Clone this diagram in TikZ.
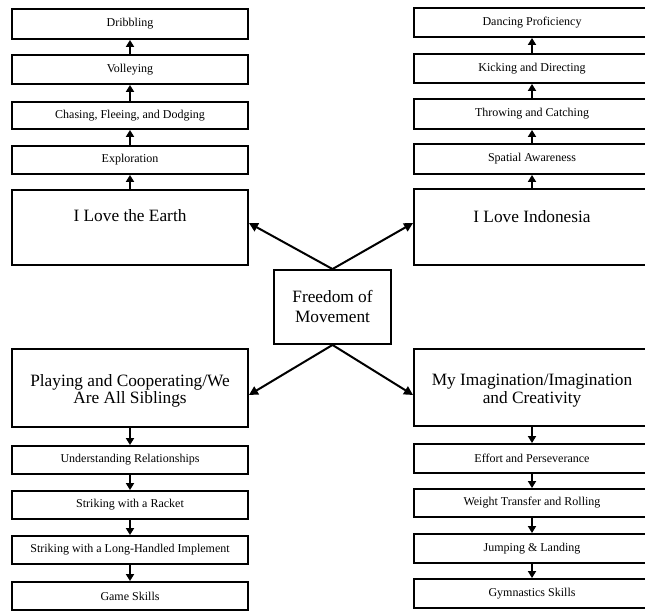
\documentclass[tikz,border=0pt]{standalone}
\usepackage{fontspec}
\setmainfont{Liberation Serif}
\usetikzlibrary{arrows.meta}
\begin{document}
\begin{tikzpicture}[x=1pt,y=-1pt,
  box/.style={draw,line width=1.9pt,rectangle,inner sep=0pt,minimum width=236pt,font=\fontsize{12}{14}\selectfont},
  bigbox/.style={draw,line width=1.9pt,rectangle,inner sep=0pt,minimum width=236pt},
  bigtxt/.style={inner sep=0pt,align=center,font=\fontsize{17.3}{18}\selectfont},
  arr/.style={line width=2pt,-{Triangle[length=9pt,width=9pt]}},
  sarr/.style={line width=1.9pt,-{Triangle[length=7pt,width=8pt]}}]
\useasboundingbox (0,0) rectangle (645,612);
% top left
\node[box,minimum height=30pt] (drib) at (130,24) {Dribbling};
\node[box,minimum height=29pt] (voll) at (130,69.5) {Volleying};
\node[box,minimum height=27pt] (chas) at (130,115.5) {Chasing, Fleeing, and Dodging};
\node[box,minimum height=28pt] (expl) at (130,160) {Exploration};
\node[bigbox,minimum height=75pt] (earth) at (130,227.5) {};
\node[bigtxt,anchor=base] (earthT) at (130,222) {I Love the Earth};
\draw[sarr] (earth) -- (expl);
\draw[sarr] (expl) -- (chas);
\draw[sarr] (chas) -- (voll);
\draw[sarr] (voll) -- (drib);
% top right
\node[box,minimum height=29pt] (danc) at (532,22.5) {Dancing Proficiency};
\node[box,minimum height=29pt] (kick) at (532,68.5) {Kicking and Directing};
\node[box,minimum height=30pt] (thro) at (532,114) {Throwing and Catching};
\node[box,minimum height=30pt] (spat) at (532,159) {Spatial Awareness};
\node[bigbox,minimum height=76pt] (indo) at (532,227) {};
\node[bigtxt,anchor=base] (indoT) at (532,223) {I Love Indonesia};
\draw[sarr] (indo) -- (spat);
\draw[sarr] (spat) -- (thro);
\draw[sarr] (thro) -- (kick);
\draw[sarr] (kick) -- (danc);
% center
\node[draw,line width=1.9pt,inner sep=0pt,minimum width=117pt,minimum height=74pt] (free) at (332.5,307) {};
\node[inner sep=0pt,anchor=base,font=\fontsize{17.3}{20}\selectfont] (freeA) at (332.5,302.5) {Freedom of};
\node[inner sep=0pt,anchor=base,font=\fontsize{17.3}{20}\selectfont] (freeB) at (332.5,322) {Movement};
% bottom left
\node[bigbox,minimum height=78pt] (play) at (130,388) {};
\node[bigtxt,anchor=base] (playA) at (130,386) {Playing and Cooperating/We};
\node[bigtxt,anchor=base] (playB) at (130,403.5) {Are All Siblings};
\node[box,minimum height=28pt] (unde) at (130,460) {Understanding Relationships};
\node[box,minimum height=28pt] (rack) at (130,505) {Striking with a Racket};
\node[box,minimum height=28pt] (long) at (130,550) {Striking with a Long-Handled Implement};
\node[box,minimum height=28pt] (game) at (130,596) {Game Skills};
\draw[sarr] (play) -- (unde);
\draw[sarr] (unde) -- (rack);
\draw[sarr] (rack) -- (long);
\draw[sarr] (long) -- (game);
% bottom right
\node[bigbox,minimum height=77pt] (imag) at (532,387.5) {};
\node[bigtxt,anchor=base] (imagA) at (532,385.5) {My Imagination/Imagination};
\node[bigtxt,anchor=base] (imagB) at (532,403) {and Creativity};
\node[box,minimum height=29pt] (effo) at (532,458.5) {Effort and Perseverance};
\node[box,minimum height=28pt] (weig) at (532,503) {Weight Transfer and Rolling};
\node[box,minimum height=29pt] (jump) at (532,548.5) {Jumping \& Landing};
\node[box,minimum height=29pt] (gymn) at (532,593.5) {Gymnastics Skills};
\draw[sarr] (imag) -- (effo);
\draw[sarr] (effo) -- (weig);
\draw[sarr] (weig) -- (jump);
\draw[sarr] (jump) -- (gymn);
% center connectors
\draw[arr] (free.north) -- ([yshift=4.5pt]earth.east);
\draw[arr] (free.north) -- ([yshift=4pt]indo.west);
\draw[arr] (free.south) -- ([yshift=-7pt]play.east);
\draw[arr] (free.south) -- ([yshift=-7.5pt]imag.west);
\end{tikzpicture}
\end{document}
